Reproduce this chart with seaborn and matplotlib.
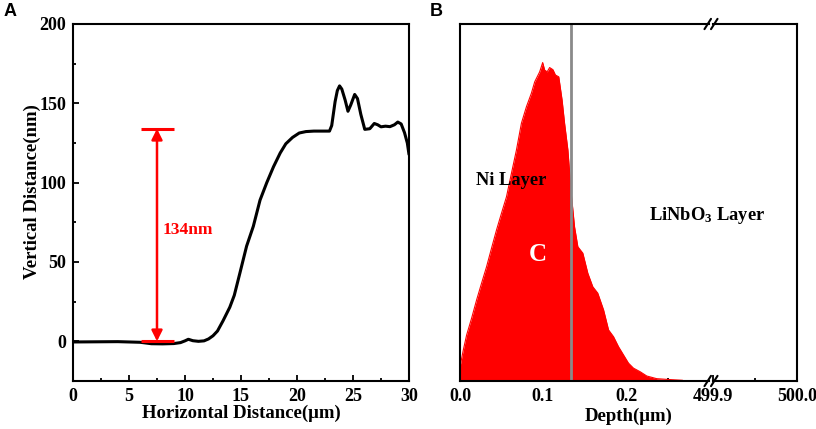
import numpy as np
import pandas as pd
import matplotlib
matplotlib.use("Agg")
import matplotlib.pyplot as plt
import seaborn as sns

# ---- data ----
# panel A: step height profile
horiz_um = [0, 2, 4, 6, 7, 8, 9, 9.6, 10.0, 10.3, 10.7, 11.2, 11.7, 12.1, 12.5, 12.9,
            13.4, 14.0, 14.4, 14.9, 15.5, 16.1, 16.7, 17.3, 17.9, 18.5, 19.0, 19.6,
            20.2, 20.8, 21.5, 22.3, 22.9, 23.1, 23.4, 23.6, 23.8, 24.0, 24.3, 24.55,
            24.8, 25.15, 25.4, 25.7, 26.05, 26.5, 26.9, 27.2, 27.5, 27.9, 28.3, 28.7,
            29.0, 29.3, 29.6, 29.85, 30.0]
vert_nm = [-0.4, -0.3, -0.2, -0.6, -1.5, -1.6, -1.4, -0.8, 0.3, 1.3, 0.4, 0.0, 0.3,
           1.5, 3.5, 6.5, 13.0, 21.5, 29, 43, 60, 72.5, 89, 100, 110, 118.7, 124.5,
           128.5, 131.3, 132.2, 132.5, 132.5, 132.5, 136, 151, 158, 161, 159, 152,
           145, 149, 155.6, 153, 143, 133.6, 134, 137.3, 136.5, 135.2, 135.6, 135.3,
           136.5, 138.2, 137, 131.5, 125, 117.8]
step_height = 134

# panel B: implanted C depth distribution (relative)
depth_um = [0.0, 0.004, 0.008, 0.014, 0.02, 0.026, 0.032, 0.038, 0.044, 0.05, 0.056,
            0.062, 0.068, 0.074, 0.08, 0.086, 0.09, 0.096, 0.0996, 0.102, 0.105,
            0.108, 0.112, 0.115, 0.119, 0.123, 0.126, 0.13, 0.134, 0.138, 0.142,
            0.148, 0.154, 0.16, 0.166, 0.173, 0.179, 0.185, 0.191, 0.197, 0.203,
            0.209, 0.217, 0.225, 0.237, 0.253, 0.268, 0.27]
c_conc = [0.04, 0.087, 0.129, 0.176, 0.227, 0.274, 0.32, 0.372, 0.423, 0.47, 0.516,
          0.582, 0.647, 0.722, 0.768, 0.806, 0.838, 0.866, 0.892, 0.871, 0.866,
          0.878, 0.872, 0.857, 0.852, 0.787, 0.722, 0.647, 0.526, 0.432, 0.376,
          0.358, 0.302, 0.264, 0.246, 0.199, 0.143, 0.124, 0.096, 0.073, 0.05,
          0.036, 0.026, 0.014, 0.0065, 0.004, 0.002, 0.0]
interface_um = 0.134

df_a = pd.DataFrame({"x": horiz_um, "y": vert_nm})
df_b = pd.DataFrame({"x": depth_um, "y": c_conc})

sns.set_theme(style="ticks")
plt.rcParams["font.family"] = ["Liberation Serif", "DejaVu Serif"]
plt.rcParams["font.weight"] = "bold"
plt.rcParams["text.color"] = "black"
plt.rcParams["axes.labelcolor"] = "black"
plt.rcParams["xtick.color"] = "black"
plt.rcParams["ytick.color"] = "black"
plt.rcParams["mathtext.fontset"] = "custom"
plt.rcParams["mathtext.rm"] = "Liberation Serif:bold"
plt.rcParams["mathtext.it"] = "Liberation Serif:bold"
plt.rcParams["mathtext.bf"] = "Liberation Serif:bold"

fig = plt.figure(figsize=(8.16, 4.29), dpi=100)

def style_ax(ax):
    for s in ax.spines.values():
        s.set_linewidth(1.5)
        s.set_color("black")
    ax.tick_params(which="both", direction="in", width=1.3, colors="black",
                   labelsize=13, top=False, right=False, pad=5)
    ax.tick_params(which="major", length=4)
    ax.tick_params(which="minor", length=2.5)
    for lab in ax.get_xticklabels() + ax.get_yticklabels():
        lab.set_fontweight("bold")

# ---- panel A ----
axA = fig.add_axes([73 / 816, 48 / 429, 336 / 816, 357 / 429])
sns.lineplot(data=df_a, x="x", y="y", ax=axA, color="black", lw=2.2)
axA.set_xlim(0, 30)
axA.set_ylim(-25, 200)
axA.set_xticks([0, 5, 10, 15, 20, 25, 30])
axA.set_xticks(np.arange(2.5, 30, 5), minor=True)
axA.set_yticks([0, 50, 100, 150, 200])
axA.set_yticks([-25, 25, 75, 125, 175], minor=True)
axA.set_xlabel("Horizontal Distance(μm)", fontsize=13.5, fontweight="bold", labelpad=0)
axA.set_ylabel("Vertical Distance(nm)", fontsize=13.5, fontweight="bold")
axA.yaxis.set_label_coords(-0.095, 0.53)
style_ax(axA)

red = "#ff0000"
axA.plot([6.1, 9.0], [0, 0], color=red, lw=2.2, solid_capstyle="butt")
axA.plot([6.1, 9.0], [step_height, step_height], color=red, lw=2.2, solid_capstyle="butt")
axA.annotate("", xy=(7.5, step_height), xytext=(7.5, 0),
             arrowprops=dict(arrowstyle="<|-|>", color=red, lw=1.8,
                             mutation_scale=16, shrinkA=0, shrinkB=0))
axA.text(8.0, 70, f"{step_height}nm", color=red, fontsize=12.5, fontweight="bold",
         va="center", ha="left")

# ---- panel B (broken x axis) ----
b_left, b_bot, b_h = 460 / 816, 48 / 429, 357 / 429
axB1 = fig.add_axes([b_left, b_bot, 249 / 816, b_h])
axB2 = fig.add_axes([713 / 816, b_bot, 84 / 816, b_h])

axB1.fill_between(df_b["x"], 0, df_b["y"], color=red, lw=0)
sns.lineplot(data=df_b, x="x", y="y", ax=axB1, color=red, lw=0.8)
axB1.axvline(interface_um, color="#8a8a8a", lw=2)
axB1.set_xlim(0, 0.3)
axB2.set_xlim(499.9, 500.0)
for ax in (axB1, axB2):
    ax.set_ylim(0, 1)
    ax.set_yticks([])
    ax.set_ylabel("")
    ax.set_xlabel("")
axB1.set_xticks([0.0, 0.1, 0.2])
axB1.set_xticklabels(["0.0", "0.1", "0.2"])
axB1.set_xticks([0.05, 0.15, 0.25], minor=True)
axB2.set_xticks([499.9, 500.0])
axB2.set_xticklabels(["499.9", "500.0"])
axB2.set_xticks([499.95], minor=True)
axB1.spines["right"].set_visible(False)
axB2.spines["left"].set_visible(False)
style_ax(axB1)
style_ax(axB2)
axB2.tick_params(axis="y", left=False)

# break marks
for yb in (0, 1):
    for dx in (-0.004, 0.004):
        xc = 711 / 816 + dx
        fig.add_artist(plt.Line2D([xc - 0.004, xc + 0.004],
                                  [b_bot + yb * b_h - 0.012, b_bot + yb * b_h + 0.012],
                                  color="black", lw=1.5))

fig.text((460 + 797) / 2 / 816, 4 / 429, "Depth(μm)", fontsize=13.5,
         fontweight="bold", ha="center", va="bottom")

axB1.text(0.062, 0.563, "Ni Layer", fontsize=13.3, fontweight="bold",
          ha="center", va="center")
axB1.text(0.0936, 0.353, "C", fontsize=18, fontweight="bold", color="white",
          ha="center", va="center")
fig.text(707 / 816, 1 - 215 / 429, r"LiNbO$_3$ Layer", fontsize=13.3,
         fontweight="bold", ha="center", va="center")

# panel letters
fig.text(4 / 816, 1 - 11 / 429, "A", fontsize=13, fontweight="bold",
         family="Liberation Sans", ha="left", va="center")
fig.text(430 / 816, 1 - 11 / 429, "B", fontsize=13, fontweight="bold",
         family="Liberation Sans", ha="left", va="center")

fig.savefig("out.png", dpi=100)
